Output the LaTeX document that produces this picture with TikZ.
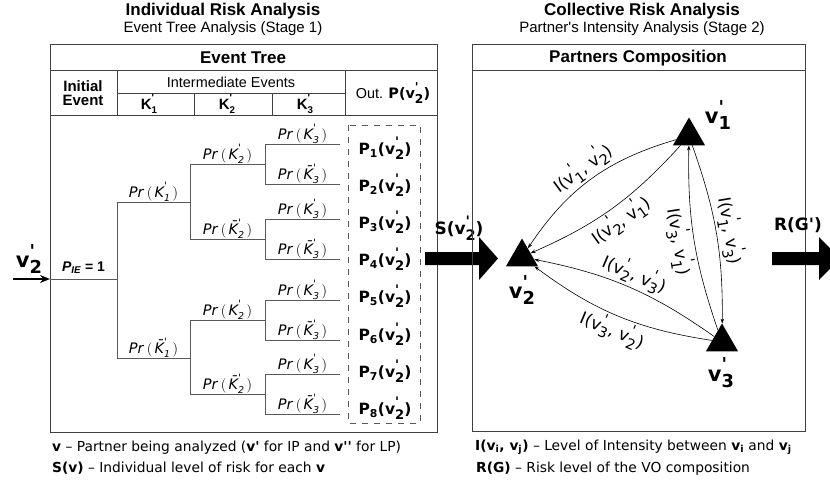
\documentclass[tikz,border=0pt]{standalone}
\usepackage{fontspec}
\setmainfont{DejaVu Sans}
\newfontfamily\arialfont{Liberation Sans}
\usetikzlibrary{arrows.meta,shapes.geometric}
\definecolor{treeline}{rgb}{0.35, 0.35, 0.35}
\definecolor{frameline}{rgb}{0.25, 0.25, 0.25}
% v with prime and index
\newcommand{\vp}[1]{v\rlap{\raisebox{.5em}{\scalebox{.85}{\textquotesingle}}}\raisebox{-.3em}{\scalebox{.85}{#1}}}
% K (or K bar) with prime and index
\newcommand{\kp}[2]{#1\rlap{\raisebox{.55em}{\scalebox{.7}{\textquotesingle}}}\raisebox{-.3em}{\scalebox{.65}{#2}}}
\newcommand{\prk}[2]{\textit{Pr}\,$\big($\,\textit{\kp{#1}{#2}}\,$\big)$}

\begin{document}
\begin{tikzpicture}[x=1pt,y=-1pt,
    tline/.style={draw=treeline,line width=0.9pt},
    prlab/.style={above=-1pt,inner sep=1pt,font=\fontsize{14.5}{14.5}\selectfont},
    pout/.style={font=\bfseries\fontsize{15.5}{16}\selectfont},
    partner/.style={regular polygon,regular polygon sides=3,fill=black,minimum size=37pt,inner sep=0pt},
    vlab/.style={font=\bfseries\fontsize{21}{21}\selectfont},
    ilink/.style={line width=0.6pt,-{Stealth[length=5pt,width=3.5pt]}},
    ilab/.style={sloped,inner sep=2pt,font=\fontsize{17}{17}\selectfont},
    title/.style={font=\arialfont\bfseries\fontsize{17}{17}\selectfont},
    subtitle/.style={font=\arialfont\fontsize{15}{15}\selectfont},
    head/.style={font=\arialfont\bfseries\fontsize{17}{17}\selectfont},
    legend/.style={anchor=west,inner sep=0pt,font=\fontsize{13.8}{14}\selectfont}]
  \clip (0,0) rectangle (830,487);

  \node[title] (indiv) at (223,11) {Individual Risk Analysis};
  \node[subtitle] (stage1) at (223,29) {Event Tree Analysis (Stage 1)};
  \node[title] (collect) at (642,11) {Collective Risk Analysis};
  \node[subtitle] (stage2) at (642,29) {Partner\textquotesingle s Intensity Analysis (Stage 2)};

  % event tree table
  \draw[frameline,line width=1pt] (50,45) rectangle (437,432);
  \draw[frameline,line width=1pt] (50,71) -- (437,71) (50,115) -- (437,115)
    (117,71) -- (117,115) (345,71) -- (345,115) (117,93) -- (345,93)
    (194,93) -- (194,115) (272,93) -- (272,115);
  \node[head] (etree) at (243,58) {Event Tree};
  \node[font=\arialfont\bfseries\fontsize{15}{14}\selectfont,align=center] (initev) at (83,93) {Initial\\Event};
  \node[font=\arialfont\fontsize{14.4}{15}\selectfont] (interev) at (231,82) {Intermediate Events};
  \node[font=\arialfont\bfseries\fontsize{15}{15}\selectfont] (hk1) at (149,104) {\kp{K}{1}};
  \node[font=\arialfont\bfseries\fontsize{15}{15}\selectfont] (hk2) at (227,104) {\kp{K}{2}};
  \node[font=\arialfont\bfseries\fontsize{15}{15}\selectfont] (hk3) at (305,104) {\kp{K}{3}};
  \node[font=\arialfont\fontsize{14.4}{15}\selectfont] (outp) at (393,93) {Out. {\fontspec{DejaVu Sans}\bfseries P(\vp{2})}};

  % tree
  \coordinate (src) at (13,279);
  \coordinate (in) at (50,279);
  \coordinate (ie) at (117,279);
  \coordinate (k1) at (190,202);
  \coordinate (k0) at (190,358);
  \coordinate (k11) at (265,164);
  \coordinate (k10) at (265,239);
  \coordinate (k01) at (265,320);
  \coordinate (k00) at (265,394);
  \draw[line width=1.8pt,-{Stealth[length=10pt,width=8pt]}] (src) -- (in);
  \node[vlab] (vin) at (29,259) {\vp{2}};
  \draw[tline] (in) -- node[above=2pt,font=\arialfont\bfseries\fontsize{14}{14}\selectfont]{\textit{P\textsubscript{IE}} = 1} (ie);
  \draw[tline] (ie) |- node[prlab,pos=.75]{\prk{K}{1}} (k1);
  \draw[tline] (ie) |- node[prlab,pos=.75]{\prk{\=K}{1}} (k0);
  \draw[tline] (k1) |- node[prlab,pos=.75]{\prk{K}{2}} (k11);
  \draw[tline] (k1) |- node[prlab,pos=.75]{\prk{\=K}{2}} (k10);
  \draw[tline] (k0) |- node[prlab,pos=.75]{\prk{K}{2}} (k01);
  \draw[tline] (k0) |- node[prlab,pos=.75]{\prk{\=K}{2}} (k00);
  \foreach \lf/\br/\ly/\py/\kk in {1/k11/144/148/K,2/k11/184/185/\=K,3/k10/219/222/K,4/k10/259/259/\=K,
                              5/k01/300/296/K,6/k01/340/334/\=K,7/k00/374/371/K,8/k00/414/408/\=K}{
    \coordinate (l\lf) at (340,\ly);
    \draw[tline] (\br) |- node[prlab,pos=.75]{\prk{\kk}{3}} (l\lf);
    \node[pout] (p\lf) at (385,\py) {P\textsubscript{\lf}(\vp{2})};
  }
  \draw[treeline,line width=0.9pt,dash pattern=on 6pt off 6pt] (348,125) rectangle (420,423);

  % S arrow
  \fill (425,252) -- (479,252) -- (479,237) -- (498,258.5) -- (479,280) -- (479,265) -- (425,265) -- cycle;
  \node[font=\bfseries\fontsize{17}{17}\selectfont] (slab) at (459,228) {S(\vp{2})};

  % partners composition
  \draw[frameline,line width=1pt] (472,45) rectangle (805,431);
  \draw[frameline,line width=1pt] (472,71) -- (805,71);
  \node[head] (pcomp) at (638,58) {Partners Composition};

  \node[partner] (v1) at (689,136) {};
  \node[partner] (v2) at (522,257) {};
  \node[partner] (v3) at (722,342) {};
  \node[vlab] (lv1) at (718,115) {\vp{1}};
  \node[vlab] (lv2) at (522,290) {\vp{2}};
  \node[vlab] (lv3) at (721,373) {\vp{3}};

  \draw[ilink,{Stealth[length=5pt,width=3.5pt]}-] (v2) to[bend left=20] node[ilab,above]{I(\vp{1}, \vp{2})} (v1);
  \draw[ilink] (v1) to[bend left=12] node[ilab,below]{I(\vp{2}, \vp{1})} (v2);
  \draw[ilink] (v3) to[bend left=10] node[ilab,below]{I(\vp{3}, \vp{1})} (v1);
  \draw[ilink] (v1) to[bend left=10] node[ilab,above]{I(\vp{1}, \vp{3})} (v3);
  \draw[ilink,{Stealth[length=5pt,width=3.5pt]}-] (v2) to[bend left=12] node[ilab,above]{I(\vp{2}, \vp{3})} (v3);
  \draw[ilink] (v3) to[bend left=14] node[ilab,below]{I(\vp{3}, \vp{2})} (v2);

  % R arrow
  \fill (772,252) -- (819,252) -- (819,237) -- (840,258.5) -- (819,280) -- (819,265) -- (772,265) -- cycle;
  \node[font=\bfseries\fontsize{17}{17}\selectfont] (rlab) at (798,225) {R(G\textquotesingle)};

  % legend
  \node[legend] (leg1) at (52,448) {\textbf{v} -- Partner being analyzed (\textbf{v\textquotesingle} for IP and \textbf{v\textquotesingle\textquotesingle} for LP)};
  \node[legend] (leg2) at (52,468) {\textbf{S(v)} -- Individual level of risk for each \textbf{v}};
  \node[legend] (leg3) at (475,447) {\textbf{I(v\textsubscript{i}, v\textsubscript{j})} -- Level of Intensity between \textbf{v\textsubscript{i}} and \textbf{v\textsubscript{j}}};
  \node[legend] (leg4) at (476,469) {\textbf{R(G)} -- Risk level of the VO composition};
\end{tikzpicture}
\end{document}
